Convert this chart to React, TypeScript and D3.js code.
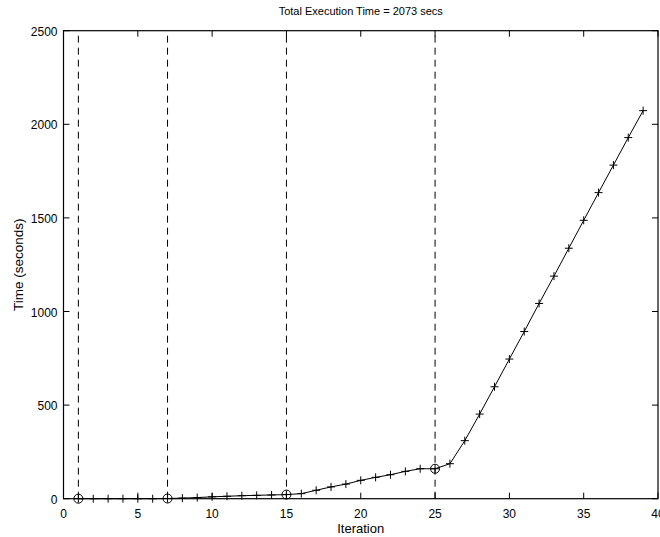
import React from "react";
import * as d3 from "d3";

const iterations = d3.range(1, 40);
const times = [
  0, 0, 0, 0, 0, 0, 1, 3, 6, 10, 13, 16, 18, 20, 22,
  27, 45, 63, 78, 98, 114, 128, 146, 160, 160,
  187, 310, 452, 598, 746, 893, 1043, 1189, 1338, 1487, 1635, 1782, 1929, 2073,
];
const phaseIterations = [1, 7, 15, 25];
const xTicks = [0, 5, 10, 15, 20, 25, 30, 35, 40];
const yTicks = [0, 500, 1000, 1500, 2000, 2500];
const title = "Total Execution Time = 2073 secs";
const xLabel = "Iteration";
const yLabel = "Time (seconds)";

const W = 660;
const H = 537;
const L = 63.5;
const R = 658;
const T = 30.7;
const B = 498.7;
const FONT = "'Liberation Sans', Arial, Helvetica, sans-serif";

export default function App() {
  const x = d3.scaleLinear().domain([0, 40]).range([L, R]);
  const y = d3.scaleLinear().domain([0, 2500]).range([B, T]);
  const pts = iterations.map((it, i) => [it, times[i]] as [number, number]);
  const line = d3
    .line<[number, number]>()
    .x((d) => x(d[0]))
    .y((d) => y(d[1]))(pts);
  const tl = 6;
  const ms = 4;
  return (
    <svg
      width={W}
      height={H}
      style={{ position: "absolute", left: 0, top: 0, background: "#fff" }}
      fontFamily={FONT}
    >
      <rect x={0} y={0} width={W} height={H} fill="#fff" />
      {phaseIterations.map((p) => (
        <line
          key={"v" + p}
          x1={x(p)}
          x2={x(p)}
          y1={y(0)}
          y2={T}
          stroke="#000"
          strokeWidth={1}
          strokeDasharray="7,5"
        />
      ))}
      <path d={line ?? ""} fill="none" stroke="#000" strokeWidth={1} />
      {pts.map(([it, v]) => (
        <g key={"m" + it} stroke="#000" strokeWidth={1}>
          <line x1={x(it) - ms} x2={x(it) + ms} y1={y(v)} y2={y(v)} />
          <line x1={x(it)} x2={x(it)} y1={y(v) - ms} y2={y(v) + ms} />
        </g>
      ))}
      {phaseIterations.map((p) => {
        const v = times[iterations.indexOf(p)];
        return (
          <circle
            key={"c" + p}
            cx={x(p)}
            cy={y(v)}
            r={4.5}
            fill="none"
            stroke="#000"
            strokeWidth={1}
          />
        );
      })}
      <rect x={L} y={T} width={R - L} height={B - T} fill="none" stroke="#000" strokeWidth={1.2} />
      {xTicks.map((t) => (
        <g key={"xt" + t}>
          <line x1={x(t)} x2={x(t)} y1={B} y2={B - tl} stroke="#000" />
          <line x1={x(t)} x2={x(t)} y1={T} y2={T + tl} stroke="#000" />
          <text x={x(t)} y={B + 19} fontSize={12} textAnchor="middle" fill="#000">
            {t}
          </text>
        </g>
      ))}
      {yTicks.map((t) => (
        <g key={"yt" + t}>
          <line x1={L} x2={L + tl} y1={y(t)} y2={y(t)} stroke="#000" />
          <line x1={R} x2={R - tl} y1={y(t)} y2={y(t)} stroke="#000" />
          <text x={57.5} y={y(t) + 5} fontSize={12} textAnchor="end" fill="#000">
            {t}
          </text>
        </g>
      ))}
      <text x={(L + R) / 2} y={15} fontSize={11} textAnchor="middle" fill="#000">
        {title}
      </text>
      <text x={(L + R) / 2} y={533} fontSize={13} textAnchor="middle" fill="#000">
        {xLabel}
      </text>
      <text
        transform={`translate(23, ${(T + B) / 2}) rotate(-90)`}
        fontSize={13.5}
        textAnchor="middle"
        fill="#000"
      >
        {yLabel}
      </text>
    </svg>
  );
}
